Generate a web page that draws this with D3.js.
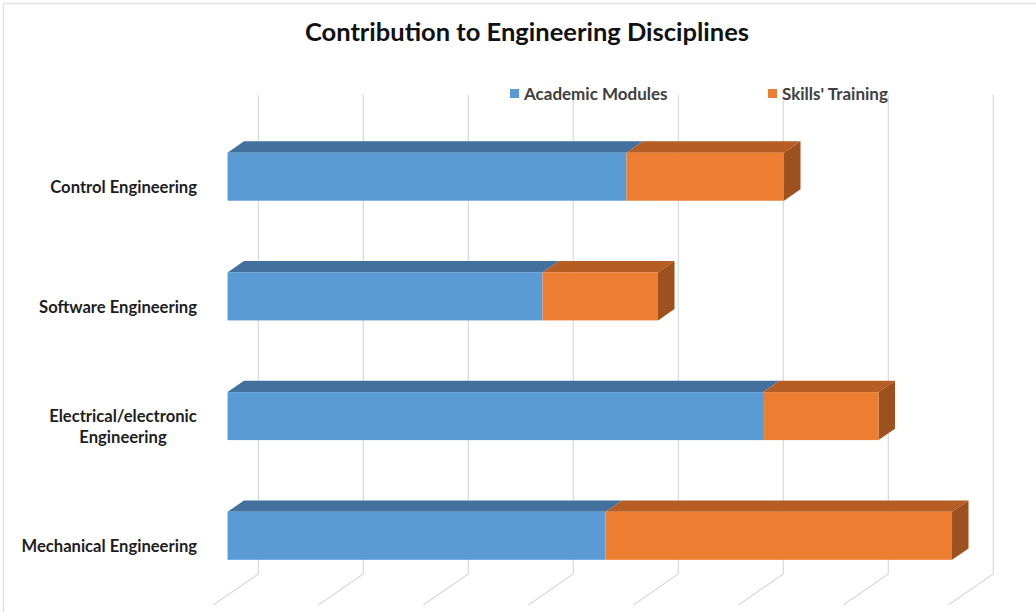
<!DOCTYPE html>
<html>
<head>
<meta charset="utf-8">
<script src="https://cdnjs.cloudflare.com/ajax/libs/d3/7.8.5/d3.min.js"></script>
<style>
  html, body { margin: 0; padding: 0; background: #ffffff; }
  svg { display: block; }
</style>
</head>
<body>
<svg id="chart" width="1036" height="612"></svg>
<script>
// ---- data ----
const categories = ["Control Engineering", "Software Engineering", "Electrical/electronic\nEngineering", "Mechanical Engineering"];
const seriesNames = ["Academic Modules", "Skills' Training"];
const academicModules = [38, 30, 51, 36];
const skillsTraining = [15, 11, 11, 33];
const gridTicks = [0, 10, 20, 30, 40, 50, 60, 70];
const chartTitle = "Contribution to Engineering Disciplines";

// ---- styles ----
const frontColors = ["#5b9bd5", "#ed7d31"];
const topColors = ["#41719c", "#b55d22"];
const sideColors = ["#9c511e", "#9c511e"];
const gridColor = "#d9d9d9";
const fontFam = "Lato, 'Open Sans', sans-serif";

const svg = d3.select("#chart");

// 3D geometry
const floorDx = -45, floorDy = 31;      // back plane -> front edge of floor
const fFront = 0.684, fBack = 0.318;    // bar depth fractions
const barDx = (fBack - fFront) * floorDx; // front -> back of bar
const barDy = (fBack - fFront) * floorDy;

// back-plane x scale
const xBack = d3.scaleLinear().domain([0, 70]).range([258.3, 993.3]);
// front face x scale of bars
const xFront = d3.scaleLinear().domain([0, 70]).range([258.3 + fFront * floorDx, 993.3 + fFront * floorDx]);

// band scale for bar front faces
const y = d3.scaleBand().domain(categories)
  .range([116.8, 116.8 + 119.7 * (4 - 0.599 + 0.6)])
  .paddingInner(0.599).paddingOuter(0.3);

// chart border (top & left)
svg.append("line").attr("x1", 3).attr("x2", 1036).attr("y1", 3.5).attr("y2", 3.5)
  .attr("stroke", "#e3e3e3").attr("stroke-width", 1.5);
svg.append("line").attr("x1", 3.5).attr("x2", 3.5).attr("y1", 3).attr("y2", 612)
  .attr("stroke", "#e3e3e3").attr("stroke-width", 1.5);

// title
svg.append("text")
  .attr("x", 527).attr("y", 41)
  .attr("text-anchor", "middle")
  .attr("font-family", fontFam)
  .attr("font-weight", "bold")
  .attr("font-size", 25.5)
  .attr("fill", "#111")
  .text(chartTitle);

// gridlines (back wall + floor)
const gTop = 95, gBottom = 574;
const grid = svg.append("g");
gridTicks.forEach(t => {
  const xb = xBack(t);
  grid.append("path")
    .attr("d", `M${xb},${gTop}L${xb},${gBottom}L${xb + floorDx},${gBottom + floorDy}`)
    .attr("fill", "none").attr("stroke", gridColor).attr("stroke-width", 1.2);
});

// legend
const legendX = [510, 768];
const legend = svg.append("g");
seriesNames.forEach((name, i) => {
  legend.append("rect").attr("x", legendX[i]).attr("y", 89).attr("width", 9).attr("height", 9)
    .attr("fill", frontColors[i]);
  legend.append("text").attr("x", legendX[i] + 14).attr("y", 100)
    .attr("font-family", fontFam)
    .attr("font-weight", "bold")
    .attr("font-size", 17)
    .attr("fill", "#404040")
    .text(name);
});

// bars
const stackData = categories.map((c, i) => ({ cat: c, vals: [academicModules[i], skillsTraining[i]] }));
const bars = svg.append("g");
stackData.forEach(d => {
  const y0 = y(d.cat), h = y.bandwidth();
  let acc = 0;
  const segs = d.vals.map((v, i) => { const s = { i, a: acc, b: acc + v }; acc += v; return s; });
  segs.forEach((s, k) => {
    const xa = xFront(s.a), xb = xFront(s.b);
    // top face
    bars.append("path")
      .attr("d", `M${xa},${y0}L${xa + barDx},${y0 + barDy}L${xb + barDx},${y0 + barDy}L${xb},${y0}Z`)
      .attr("fill", topColors[s.i]);
    // side face (last segment only)
    if (k === segs.length - 1) {
      bars.append("path")
        .attr("d", `M${xb},${y0}L${xb + barDx},${y0 + barDy}L${xb + barDx},${y0 + h + barDy}L${xb},${y0 + h}Z`)
        .attr("fill", sideColors[s.i]);
    }
    // front face
    bars.append("rect")
      .attr("x", xa).attr("y", y0).attr("width", xb - xa).attr("height", h)
      .attr("fill", frontColors[s.i]);
  });
});

// category labels
const labels = svg.append("g");
categories.forEach(c => {
  const lines = c.split("\n");
  const cy = y(c) + y.bandwidth() / 2 + 10.5;
  const lh = 21;
  const t = labels.append("text")
    .attr("font-family", fontFam)
    .attr("font-weight", "bold")
    .attr("font-size", 16.6)
    .attr("fill", "#1e1e1e")
    .attr("text-anchor", lines.length > 1 ? "middle" : "end");
  if (lines.length === 1) {
    t.attr("x", 197).attr("y", cy).attr("dy", "0.35em").text(c);
  } else {
    lines.forEach((ln, j) => {
      t.append("tspan").attr("x", 123).attr("y", cy + (j - (lines.length - 1) / 2) * lh)
        .attr("dy", "0.35em").text(ln);
    });
  }
});
</script>
</body>
</html>
